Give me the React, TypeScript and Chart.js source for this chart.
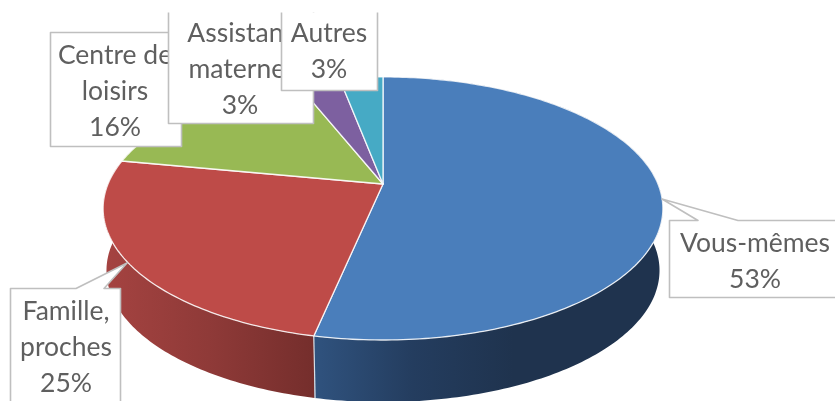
import React, { useEffect, useRef } from "react";
import { Chart, registerables } from "chart.js";

Chart.register(...registerables);

const categories = ["Vous-mêmes", "Famille, proches", "Centre de loisirs", "Assistant maternel", "Autres"];
const shares = [53.3, 24.7, 16, 3, 3];
const topColors = ["#4a7ebb", "#be4b48", "#98b954", "#7d60a0", "#46aac5"];
const wallStops = [
  ["#30537f", "#243d5f", "#1f334e"],
  ["#a54341", "#8f3a38", "#752e2c"],
  ["#7c9a42", "#6f8a3b", "#5f7733"],
  ["#644c82", "#5a4475", "#4e3b66"],
  ["#38899f", "#307a8f", "#2a6a7c"],
];

// Perspective of the tilted disc
const SCALE_X = 275 / 184;
const SCALE_Y = 127 / 184;
const PERSPECTIVE = 0.186;
const DEPTH = 62;
const BASE_SHRINK = 0.988;

type Box = { x0: number; x1: number; y0: number; y1: number; openTop?: boolean; wedge?: number[]; cx: number; lines: string[]; firstY: number };
const callouts: Box[] = [
  { x0: 669.5, x1: 840, y0: 220.5, y1: 297.5, wedge: [662, 199, 698, 738], cx: 755, lines: ["Vous-mêmes"], firstY: 243 },
  { x0: 10.5, x1: 120.5, y0: 288.5, y1: 405, wedge: [127, 263, 76, 104], cx: 66, lines: ["Famille,", "proches"], firstY: 311 },
  { x0: 50.5, x1: 181.5, y0: 32.5, y1: 146.5, cx: 115, lines: ["Centre de", "loisirs"], firstY: 55 },
  { x0: 168.5, x1: 313.5, y0: 12.5, y1: 123.5, openTop: true, cx: 240, lines: ["Assistant", "maternel"], firstY: 33 },
  { x0: 281.5, x1: 377.5, y0: 12.5, y1: 90.5, openTop: true, cx: 329, lines: ["Autres"], firstY: 33 },
];

function project(a: any, angle: number, base = false) {
  const u = Math.cos(angle);
  const v = Math.sin(angle);
  const d = 1 - PERSPECTIVE * v;
  const s = base ? BASE_SHRINK : 1;
  return {
    x: a.x + (a.outerRadius * SCALE_X * u * s) / d,
    y: a.y + (a.outerRadius * SCALE_Y * v) / d + (base ? DEPTH : 0),
  };
}

function rim(a: any, base = false) {
  const n = Math.max(8, Math.ceil((a.endAngle - a.startAngle) * 60));
  const pts = [];
  for (let i = 0; i <= n; i++) pts.push(project(a, a.startAngle + ((a.endAngle - a.startAngle) * i) / n, base));
  return pts;
}

const disc3d = {
  id: "disc3d",
  beforeDatasetDraw() {
    return false;
  },
  afterDatasetsDraw(chart: any) {
    const ctx = chart.ctx;
    const arcs = chart.getDatasetMeta(0).data;
    ctx.save();
    ctx.lineJoin = "round";
    // walls
    const order = arcs.map((_: any, i: number) => i).reverse();
    order.forEach((i: number) => {
      const a = arcs[i];
      const top = rim(a);
      const bottom = rim(a, true).reverse();
      const xs = top.map((p) => p.x);
      const minX = Math.min(...xs);
      const maxX = Math.max(...xs);
      const g = ctx.createLinearGradient(i === 0 ? maxX - 351 : minX, 0, i === 0 ? maxX - 150 : maxX, 0);
      wallStops[i].forEach((c, k) => g.addColorStop(k / 2, c));
      ctx.beginPath();
      top.concat(bottom).forEach((p, k) => (k ? ctx.lineTo(p.x, p.y) : ctx.moveTo(p.x, p.y)));
      ctx.closePath();
      ctx.fillStyle = g;
      ctx.fill();
    });
    // vertical seam between the two visible walls
    const seamTop = project(arcs[0], arcs[0].endAngle);
    const seamBottom = project(arcs[0], arcs[0].endAngle, true);
    ctx.strokeStyle = "rgba(230,235,240,0.9)";
    ctx.lineWidth = 1.2;
    ctx.beginPath();
    ctx.moveTo(seamTop.x, seamTop.y);
    ctx.lineTo(seamBottom.x + 0.5, seamBottom.y);
    ctx.stroke();
    // top faces
    arcs.forEach((a: any, i: number) => {
      ctx.beginPath();
      ctx.moveTo(a.x, a.y);
      rim(a).forEach((p) => ctx.lineTo(p.x, p.y));
      ctx.closePath();
      ctx.fillStyle = topColors[i];
      ctx.fill();
      ctx.strokeStyle = "rgba(255,255,255,0.85)";
      ctx.lineWidth = 1.3;
      ctx.stroke();
    });
    // callouts
    ctx.font = '26.5px Lato';
    ctx.textAlign = "center";
    ctx.textBaseline = "middle";
    callouts.forEach((b, i) => {
      ctx.beginPath();
      ctx.moveTo(b.x0, b.y0);
      if (b.wedge) {
        ctx.lineTo(b.wedge[2], b.y0);
        ctx.lineTo(b.wedge[0], b.wedge[1]);
        ctx.lineTo(b.wedge[3], b.y0);
      }
      ctx.lineTo(b.x1, b.y0);
      ctx.lineTo(b.x1, b.y1);
      ctx.lineTo(b.x0, b.y1);
      ctx.closePath();
      ctx.fillStyle = "#ffffff";
      ctx.fill();
      ctx.strokeStyle = "#bfbfbf";
      ctx.lineWidth = 1.6;
      ctx.beginPath();
      if (b.openTop) {
        ctx.moveTo(b.x0, b.y0);
        ctx.lineTo(b.x0, b.y1);
        ctx.lineTo(b.x1, b.y1);
        ctx.lineTo(b.x1, b.y0);
      } else {
        ctx.moveTo(b.x0, b.y0);
        if (b.wedge) {
          ctx.lineTo(b.wedge[2], b.y0);
          ctx.lineTo(b.wedge[0], b.wedge[1]);
          ctx.lineTo(b.wedge[3], b.y0);
        }
        ctx.lineTo(b.x1, b.y0);
        ctx.lineTo(b.x1, b.y1);
        ctx.lineTo(b.x0, b.y1);
        ctx.closePath();
      }
      ctx.stroke();
      // text, clipped by the boxes drawn later
      ctx.fillStyle = "#5f5f5f";
      const all = [...b.lines, `${Math.round(shares[i])}%`];
      all.forEach((t, k) => ctx.fillText(t, b.cx, b.firstY + k * 36));
    });
    ctx.restore();
  },
};

export default function App() {
  const ref = useRef<HTMLCanvasElement>(null);
  useEffect(() => {
    document.body.style.margin = "0";
    const chart = new Chart(ref.current!, {
      type: "pie",
      data: {
        labels: categories,
        datasets: [{ data: shares, backgroundColor: topColors, borderWidth: 0 }],
      },
      options: {
        animation: false,
        responsive: false,
        layout: { padding: { right: 69, bottom: 33 } },
        plugins: { legend: { display: false }, tooltip: { enabled: false } },
      },
      plugins: [disc3d],
    } as any);
    return () => chart.destroy();
  }, []);
  return (
    <div style={{ position: "fixed", left: 0, top: 0, width: 835, height: 401, overflow: "hidden", background: "#fff" }}>
      <canvas ref={ref} width={835} height={401} style={{ display: "block", filter: "blur(0.6px)" }} />
    </div>
  );
}
